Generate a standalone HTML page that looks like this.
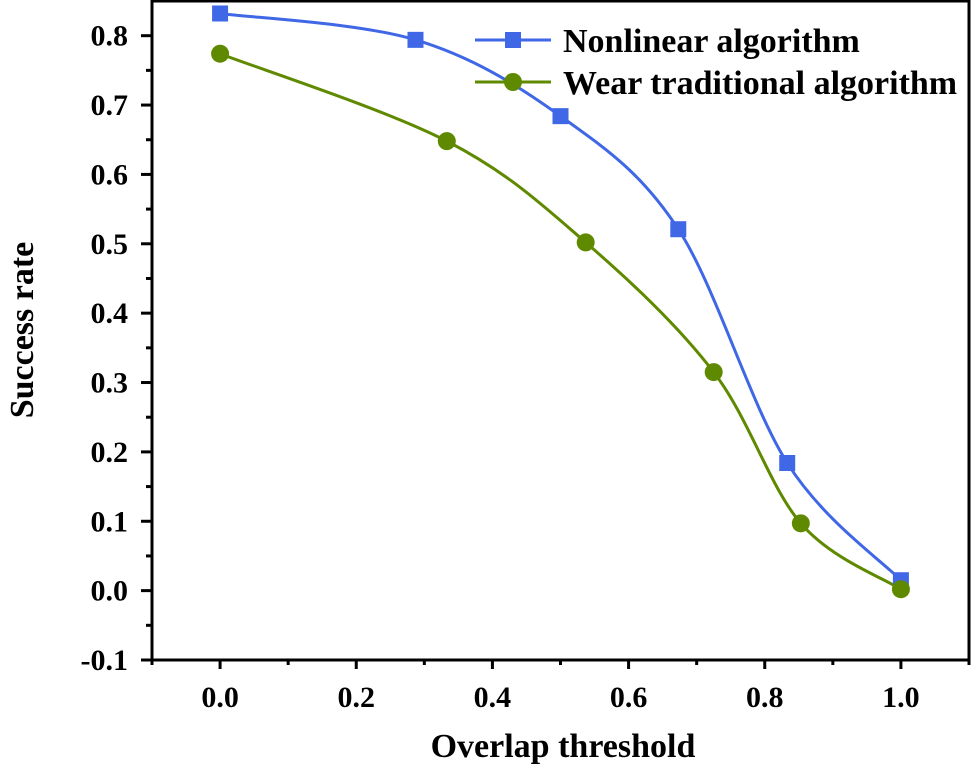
<!DOCTYPE html>
<html><head><meta charset="utf-8"><style>
html,body{margin:0;padding:0;background:#fff}
svg{display:block}
text{font-family:"Liberation Serif",serif;font-weight:bold;fill:#000}
</style></head><body>
<svg id="chart" width="972" height="770">
<g id="axes"></g><g id="series"></g><g id="legend"></g>
</svg>
<script>
const xTicks=[0.0,0.2,0.4,0.6,0.8,1.0];
const yTicks=[-0.1,0.0,0.1,0.2,0.3,0.4,0.5,0.6,0.7,0.8];
const seriesNames=["Nonlinear algorithm","Wear traditional algorithm"];
const blueX=[0,0.287,0.5,0.673,0.833,1.0];
const blueY=[0.832,0.794,0.684,0.521,0.184,0.015];
const greenX=[0,0.333,0.537,0.725,0.853,1.0];
const greenY=[0.774,0.648,0.502,0.315,0.097,0.002];

const L=152,R=969,T=1,B=660;
const xMin=-0.1,xMax=1.1,yMin=-0.1,yMax=0.85;
const sx=v=>L+(v-xMin)/(xMax-xMin)*(R-L);
const sy=v=>B-(v-yMin)/(yMax-yMin)*(B-T);
const NS="http://www.w3.org/2000/svg";
function mk(tag,attrs,parent){const e=document.createElementNS(NS,tag);for(const k in attrs)e.setAttribute(k,attrs[k]);parent.appendChild(e);return e;}
const axes=document.getElementById('axes');
const frame=mk('rect',{x:L,y:T,width:R-L,height:B-T,fill:'none',stroke:'#000','stroke-width':3},axes);


xTicks.forEach(v=>{
  const l=mk('line',{x1:sx(v),x2:sx(v),y1:B,y2:B+9,stroke:'#000','stroke-width':3},axes);
  
  
  const m=mk('line',{x1:sx(v+0.1),x2:sx(v+0.1),y1:B,y2:B+5,stroke:'#000','stroke-width':3},axes);
  
  
  const t=mk('text',{x:sx(v),y:B+47,'text-anchor':'middle','font-size':30},axes);
  t.textContent=v.toFixed(1);
  
  
});
const m0=mk('line',{x1:sx(-0.1),x2:sx(-0.1),y1:B,y2:B+5,stroke:'#000','stroke-width':3},axes);


yTicks.forEach(v=>{
  const l=mk('line',{x1:L-11,x2:L,y1:sy(v),y2:sy(v),stroke:'#000','stroke-width':3},axes);
  
  
  if(v<0.8){const m=mk('line',{x1:L-6,x2:L,y1:sy(v+0.05),y2:sy(v+0.05),stroke:'#000','stroke-width':3},axes);
  
  }
  const t=mk('text',{x:L-24,y:sy(v)+10,'text-anchor':'end','font-size':30},axes);
  t.textContent=v.toFixed(1);
  
  
});
const xl=mk('text',{x:563,y:757,'text-anchor':'middle','font-size':34},axes);
xl.textContent='Overlap threshold';


const yl=mk('text',{x:0,y:0,'text-anchor':'middle','font-size':34,transform:'translate(33,330) rotate(-90)'},axes);
yl.textContent='Success rate';



function path(xs,ys){
  const p=xs.map((x,i)=>[sx(x),sy(ys[i])]);
  let d='M'+p[0][0]+','+p[0][1];
  for(let i=0;i<p.length-1;i++){
    const p0=p[Math.max(0,i-1)],p1=p[i],p2=p[i+1],p3=p[Math.min(p.length-1,i+2)];
    const c1=[p1[0]+(p2[0]-p0[0])/6,p1[1]+(p2[1]-p0[1])/6];
    const c2=[p2[0]-(p3[0]-p1[0])/6,p2[1]-(p3[1]-p1[1])/6];
    d+=' C'+c1+' '+c2+' '+p2;
  }
  return d;
}
const sg=document.getElementById('series');
const g1=mk('path',{d:path(greenX,greenY),fill:'none',stroke:'#5f8a00','stroke-width':3},sg);


const b1=mk('path',{d:path(blueX,blueY),fill:'none',stroke:'#3f67e6','stroke-width':3},sg);


blueX.forEach((x,i)=>{
  const r=mk('rect',{x:sx(x)-8,y:sy(blueY[i])-8,width:16,height:16,fill:'#3f67e6'},sg);
  
  
});
greenX.forEach((x,i)=>{
  const c=mk('circle',{cx:sx(x),cy:sy(greenY[i]),r:9,fill:'#5f8a00'},sg);
  
  
});
const lg=document.getElementById('legend');
const lb=mk('line',{x1:475,x2:551,y1:40,y2:40,stroke:'#3f67e6','stroke-width':3},lg);


const lbr=mk('rect',{x:505,y:32,width:16,height:16,fill:'#3f67e6'},lg);


const lt1=mk('text',{x:563,y:52,'font-size':34},lg);
lt1.textContent=seriesNames[0];


const lgl=mk('line',{x1:475,x2:551,y1:82,y2:82,stroke:'#5f8a00','stroke-width':3},lg);


const lgc=mk('circle',{cx:513,cy:82,r:9,fill:'#5f8a00'},lg);


const lt2=mk('text',{x:563,y:94,'font-size':34},lg);
lt2.textContent=seriesNames[1];


</script>
</body></html>
